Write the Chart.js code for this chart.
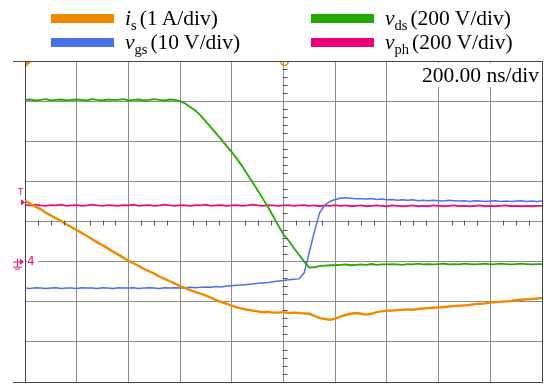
<!DOCTYPE html>
<html>
<head>
<meta charset="utf-8">
<title>Switching transient</title>
<script src="https://cdn.jsdelivr.net/npm/chart.js@4"></script>
<style>
  html, body { margin: 0; padding: 0; background: #fff; }
  #wrap { position: relative; width: 548px; height: 386px; overflow: hidden; }
  #scope { position: absolute; left: 0; top: 0; }
  .txt { position: absolute; font-family: 'Liberation Serif', 'Times New Roman', serif; font-size: 21.5px; line-height: 22px; white-space: nowrap; color: #000; }
  .txt i { font-style: italic; }
  .txt .sb { font-size: 14.5px; position: relative; top: 5px; margin-right: 3px; }
  .sw { position: absolute; width: 63px; height: 9px; }
  .mk { position: absolute; font-family: 'DejaVu Sans', sans-serif; color: #e8107a; line-height: 1; }
  #tdiv { left: 418px; top: 63px; width: 121px; height: 24px; text-align: right; background: #fff; line-height: 24px; }
</style>
</head>
<body>
<div id="wrap">
  <canvas id="scope" width="548" height="386"></canvas>

  <span class="sw" style="left:51px;top:14px;background:#ee8a00"></span>
  <span class="txt" style="left:125px;top:7px"><i>i</i><span class="sb">s</span>(1 A/div)</span>
  <span class="sw" style="left:51px;top:38px;background:#4a72e8"></span>
  <span class="txt" style="left:125px;top:31px"><i>v</i><span class="sb">gs</span>(10 V/div)</span>
  <span class="sw" style="left:311px;top:14px;background:#22aa00"></span>
  <span class="txt" style="left:385px;top:7px"><i>v</i><span class="sb">ds</span>(200 V/div)</span>
  <span class="sw" style="left:311px;top:38px;background:#ee0077"></span>
  <span class="txt" style="left:385px;top:31px"><i>v</i><span class="sb">ph</span>(200 V/div)</span>

  <span class="txt" id="tdiv">200.00 ns/div</span>
  <span class="mk" style="left:18px;top:188px;font-size:9px">T</span>
  <span class="mk" style="left:27px;top:255px;font-size:12px;background:#fff;padding-right:3px">4</span>
</div>

<script>
// Time base: 200 ns/div, 10 divisions
const tNs = [
  0, 20, 40, 60, 80, 100, 120, 140, 160, 180,
  200, 220, 240, 260, 280, 300, 320, 340, 360, 380,
  400, 420, 440, 460, 480, 500, 520, 540, 560, 580,
  600, 620, 640, 660, 680, 700, 720, 740, 760, 780,
  800, 820, 840, 860, 880, 900, 920, 940, 960, 980,
  1000, 1020, 1040, 1060, 1080, 1100, 1120, 1140, 1160, 1180,
  1200, 1220, 1240, 1260, 1280, 1300, 1320, 1340, 1360, 1380,
  1400, 1420, 1440, 1460, 1480, 1500, 1520, 1540, 1560, 1580,
  1600, 1620, 1640, 1660, 1680, 1700, 1720, 1740, 1760, 1780,
  1800, 1820, 1840, 1860, 1880, 1900, 1920, 1940, 1960, 1980,
  2000
];

// Trace positions in screen divisions (0 = bottom graticule line, 8 = top)
const isDiv = [
  4.52, 4.45, 4.37, 4.31, 4.22, 4.15, 4.08, 4.01, 3.93, 3.86,
  3.79, 3.71, 3.64, 3.56, 3.48, 3.41, 3.33, 3.25, 3.18, 3.10,
  3.02, 2.96, 2.89, 2.82, 2.76, 2.70, 2.63, 2.57, 2.51, 2.45,
  2.39, 2.34, 2.29, 2.24, 2.20, 2.15, 2.10, 2.04, 1.99, 1.95,
  1.90, 1.86, 1.83, 1.80, 1.78, 1.76, 1.74, 1.75, 1.73, 1.73,
  1.74, 1.72, 1.73, 1.72, 1.71, 1.70, 1.65, 1.59, 1.57, 1.55,
  1.58, 1.63, 1.67, 1.70, 1.72, 1.70, 1.68, 1.70, 1.74, 1.76,
  1.78, 1.78, 1.79, 1.80, 1.81, 1.80, 1.82, 1.83, 1.84, 1.85,
  1.86, 1.87, 1.88, 1.89, 1.90, 1.91, 1.92, 1.94, 1.95, 1.96,
  1.98, 1.99, 2.00, 2.01, 2.02, 2.04, 2.05, 2.06, 2.07, 2.08,
  2.09
];

const vdsDiv = [
  7.03, 7.04, 7.02, 7.03, 7.05, 7.02, 7.03, 7.04, 7.02, 7.03,
  7.04, 7.03, 7.02, 7.05, 7.03, 7.02, 7.04, 7.03, 7.03, 7.05,
  7.02, 7.03, 7.04, 7.02, 7.03, 7.05, 7.03, 7.02, 7.04, 7.03,
  7.00, 6.94, 6.85, 6.76, 6.64, 6.49, 6.34, 6.19, 6.04, 5.88,
  5.73, 5.56, 5.38, 5.18, 4.98, 4.78, 4.57, 4.36, 4.13, 3.89,
  3.68, 3.52, 3.34, 3.17, 3.00, 2.85, 2.86, 2.89, 2.90, 2.91,
  2.91, 2.92, 2.93, 2.91, 2.92, 2.93, 2.92, 2.94, 2.92, 2.93,
  2.93, 2.94, 2.93, 2.92, 2.94, 2.93, 2.95, 2.93, 2.94, 2.93,
  2.94, 2.95, 2.93, 2.94, 2.93, 2.95, 2.94, 2.93, 2.94, 2.95,
  2.93, 2.94, 2.95, 2.94, 2.93, 2.94, 2.95, 2.94, 2.93, 2.94,
  2.94
];

const vgsDiv = [
  2.34, 2.33, 2.35, 2.34, 2.33, 2.34, 2.35, 2.33, 2.34, 2.34,
  2.33, 2.35, 2.34, 2.34, 2.33, 2.35, 2.34, 2.33, 2.35, 2.34,
  2.34, 2.35, 2.33, 2.34, 2.35, 2.34, 2.33, 2.35, 2.34, 2.35,
  2.34, 2.35, 2.36, 2.35, 2.36, 2.37, 2.36, 2.38, 2.37, 2.39,
  2.40, 2.41, 2.42, 2.43, 2.44, 2.46, 2.47, 2.48, 2.50, 2.52,
  2.53, 2.55, 2.56, 2.57, 2.72, 3.24, 3.76, 4.22, 4.41, 4.50,
  4.55, 4.58, 4.59, 4.58, 4.57, 4.57, 4.56, 4.57, 4.55, 4.56,
  4.54, 4.55, 4.53, 4.54, 4.53, 4.54, 4.52, 4.53, 4.52, 4.53,
  4.52, 4.51, 4.53, 4.52, 4.51, 4.52, 4.50, 4.52, 4.51, 4.50,
  4.51, 4.52, 4.50, 4.51, 4.50, 4.51, 4.52, 4.50, 4.51, 4.50,
  4.51
];

const vphDiv = [
  4.41, 4.40, 4.42, 4.40, 4.39, 4.41, 4.40, 4.42, 4.39, 4.40,
  4.41, 4.39, 4.40, 4.42, 4.40, 4.39, 4.41, 4.40, 4.39, 4.41,
  4.40, 4.42, 4.39, 4.40, 4.41, 4.39, 4.40, 4.42, 4.40, 4.39,
  4.41, 4.40, 4.39, 4.41, 4.40, 4.42, 4.39, 4.40, 4.41, 4.39,
  4.40, 4.41, 4.39, 4.40, 4.42, 4.40, 4.39, 4.41, 4.40, 4.39,
  4.40, 4.41, 4.39, 4.40, 4.41, 4.39, 4.40, 4.38, 4.40, 4.39,
  4.41, 4.39, 4.40, 4.38, 4.39, 4.40, 4.38, 4.39, 4.40, 4.39,
  4.38, 4.40, 4.39, 4.38, 4.39, 4.40, 4.38, 4.39, 4.38, 4.40,
  4.39, 4.38, 4.39, 4.40, 4.38, 4.39, 4.38, 4.39, 4.40, 4.38,
  4.39, 4.38, 4.39, 4.40, 4.38, 4.39, 4.38, 4.39, 4.38, 4.39,
  4.39
];

const toPoints = arr => arr.map((v, i) => ({ x: tNs[i], y: v }));

// graticule extras: minor ticks on the centre lines, channel markers, frame stubs
const scopeDecor = {
  id: 'scopeDecor',
  afterDraw(chart) {
    const { ctx, chartArea: a, scales: { x, y } } = chart;
    ctx.save();
    ctx.strokeStyle = '#555';
    ctx.lineWidth = 1;
    const cx = Math.round(x.getPixelForValue(1000)) + 0.5;
    const cy = Math.round(y.getPixelForValue(4)) + 0.5;
    ctx.beginPath();
    for (let t = 0; t <= 2000; t += 50) {
      if (t % 200 === 0) continue;
      const px = Math.round(x.getPixelForValue(t)) + 0.5;
      ctx.moveTo(px, cy - 2); ctx.lineTo(px, cy + 3);
    }
    for (let d = 0; d <= 8; d += 0.2) {
      if (Math.abs(d - Math.round(d)) < 0.01) continue;
      const py = Math.round(y.getPixelForValue(d)) + 0.5;
      ctx.moveTo(cx - 2, py); ctx.lineTo(cx + 3, py);
    }
    // frame stubs to the left of the graticule
    ctx.moveTo(13, Math.round(a.top) + 0.5); ctx.lineTo(a.left, Math.round(a.top) + 0.5);
    ctx.moveTo(13, Math.round(a.bottom) + 0.5); ctx.lineTo(a.left, Math.round(a.bottom) + 0.5);
    ctx.stroke();

    // trigger / reference markers
    ctx.fillStyle = '#ee8a00';
    ctx.beginPath();
    ctx.moveTo(a.left + 1, a.top + 1); ctx.lineTo(a.left + 6, a.top + 1); ctx.lineTo(a.left + 1, a.top + 6);
    ctx.closePath(); ctx.fill();
    ctx.strokeStyle = '#ee8a00';
    ctx.lineWidth = 1.5;
    ctx.beginPath();
    ctx.arc(cx, a.top + 1, 3.5, 0, Math.PI);
    ctx.stroke();

    ctx.fillStyle = '#e8107a';
    const ty = y.getPixelForValue(4.48);
    ctx.beginPath();
    ctx.moveTo(a.left - 4, ty - 3); ctx.lineTo(a.left, ty); ctx.lineTo(a.left - 4, ty + 3);
    ctx.closePath(); ctx.fill();
    const gy = y.getPixelForValue(3);
    ctx.beginPath();
    ctx.moveTo(a.left - 5, gy - 3); ctx.lineTo(a.left - 1, gy); ctx.lineTo(a.left - 5, gy + 3);
    ctx.closePath(); ctx.fill();
    ctx.strokeStyle = '#e8107a';
    ctx.lineWidth = 1;
    ctx.beginPath();
    ctx.moveTo(13, gy + 0.5); ctx.lineTo(a.left - 4, gy + 0.5);
    ctx.moveTo(17.5, gy - 3); ctx.lineTo(17.5, gy + 5);
    ctx.moveTo(13, gy + 5.5); ctx.lineTo(22, gy + 5.5);
    ctx.moveTo(15, gy + 7.5); ctx.lineTo(20, gy + 7.5);
    ctx.stroke();
    ctx.restore();
  }
};

// outer frame darker than the inner graticule
const gridX = c => (c.tick && (c.tick.value === 0 || c.tick.value === 2000)) ? '#444' : '#8c8c8c';
const gridY = c => (c.tick && (c.tick.value === 0 || c.tick.value === 8)) ? '#444' : '#8c8c8c';

new Chart(document.getElementById('scope'), {
  type: 'line',
  data: {
    datasets: [
      { label: 'i_s', data: toPoints(isDiv), borderColor: '#ee8a00', borderWidth: 2.4 },
      { label: 'v_ds', data: toPoints(vdsDiv), borderColor: '#22aa00', borderWidth: 1.8 },
      { label: 'v_gs', data: toPoints(vgsDiv), borderColor: '#4a72e8', borderWidth: 1.5 },
      { label: 'v_ph', data: toPoints(vphDiv), borderColor: '#e8107a', borderWidth: 1.8 }
    ]
  },
  options: {
    responsive: false,
    animation: false,
    layout: { padding: { left: 25, top: 61, right: 6, bottom: 4 } },
    elements: { point: { radius: 0 }, line: { tension: 0 } },
    plugins: { legend: { display: false }, tooltip: { enabled: false } },
    scales: {
      x: {
        type: 'linear', min: 0, max: 2000,
        ticks: { display: false, stepSize: 200 },
        grid: { color: gridX, drawTicks: false, lineWidth: 1 },
        border: { display: true, color: '#444' }
      },
      y: {
        min: 0, max: 8,
        ticks: { display: false, stepSize: 1 },
        grid: { color: gridY, drawTicks: false, lineWidth: 1 },
        border: { display: true, color: '#444' }
      }
    }
  },
  plugins: [scopeDecor]
});
</script>
</body>
</html>
